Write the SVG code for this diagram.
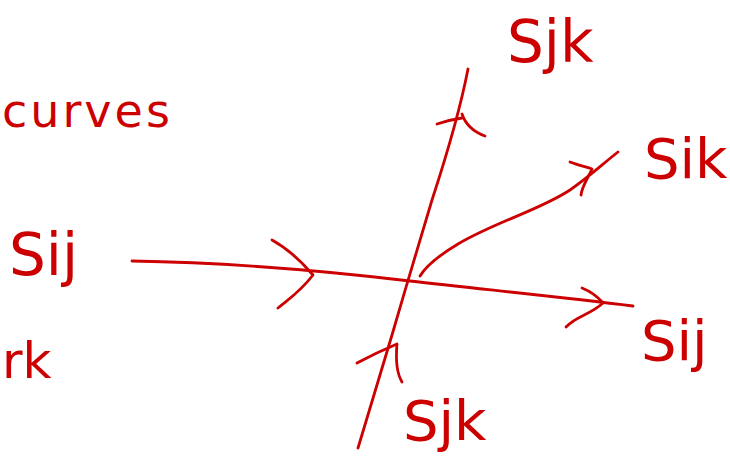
<svg xmlns="http://www.w3.org/2000/svg" width="730" height="459" viewBox="0 0 730 459">
<style>
.ink{fill:none;stroke:#cc0000;stroke-width:2.8;stroke-linecap:round;stroke-linejoin:round}
.lbl{fill:#cc0000;font-family:"DejaVu Sans","Liberation Sans",sans-serif;font-weight:normal}
</style>
<rect width="730" height="459" fill="#ffffff"/>
<g id="connectors">
<path id="line-sij" class="ink" d="M132,261 C200,262 300,268 410,281 C480,289 560,297 633,306"/>
<path id="arrow-sij-mid" class="ink" d="M272,240 C290,250 302,262 313,275 C300,292 290,298 278,308"/>
<path id="arrow-sij-end" class="ink" d="M582,288 C592,292 598,297 603,303 C590,315 576,316 566,327"/>
<path id="line-sjk" class="ink" d="M468,69 C462,100 450,145 432,200 C420,240 405,290 392,335 C380,375 368,415 358,448"/>
<path id="arrow-sjk-top" class="ink" d="M437,124 C446,121 455,119 462,118 M462,114 C466,126 474,132 485,136"/>
<path id="arrow-sjk-bot" class="ink" d="M357,363 C372,355 385,349 397,344 C396,355 396,372 402,382"/>
<path id="line-sik" class="ink" d="M420,276 C426,266 438,256 458,244 C495,222 540,210 570,190 C590,176 605,162 618,152"/>
<path id="arrow-sik" class="ink" d="M570,162 C578,165 586,167 592,169 C588,178 582,186 581,195"/>
</g>
<g id="labels">
<text class="lbl" x="507" y="62" font-size="58">Sjk</text>
<text class="lbl" x="644" y="178" font-size="56">Sik</text>
<text class="lbl" x="9" y="275" font-size="58">Sij</text>
<text class="lbl" x="641" y="360" font-size="56">Sij</text>
<text class="lbl" x="403" y="440" font-size="56">Sjk</text>
<text class="lbl" x="2" y="127" font-size="46" letter-spacing="3">curves</text>
<text class="lbl" x="2" y="378" font-size="50">rk</text>
</g>
</svg>
